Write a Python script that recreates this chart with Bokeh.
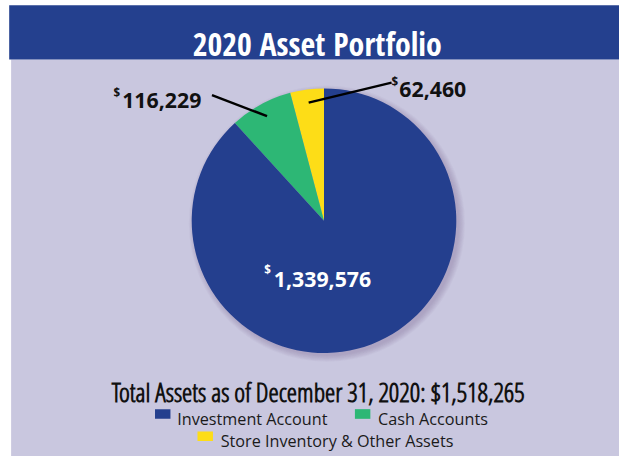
import math
from bokeh.plotting import figure
from bokeh.models import Range1d, ColumnDataSource
from bokeh.core.properties import value
from bokeh.embed import file_html
from bokeh.resources import INLINE

# ---- data ----
categories = ["Store Inventory & Other Assets", "Cash Accounts", "Investment Account"]
amounts = [62460, 116229, 1339576]
colors = ["#fddd17", "#2db775", "#243f8e"]
legend_order = ["Investment Account", "Cash Accounts", "Store Inventory & Other Assets"]
title_text = "2020 Asset Portfolio"
total_text = "Total Assets as of December 31, 2020: $1,518,265"

RW, RH = 641, 472
W, H = 619, 456
S = H / RH

def X(px):
    return px
def Y(py):
    return RH - py
def fs(px):
    return f"{px * S:.1f}px"

p = figure(width=W, height=H, output_backend="svg", toolbar_location=None,
           x_range=Range1d(0, RW), y_range=Range1d(0, RH), min_border=0)
p.axis.visible = False
p.grid.visible = False
p.outline_line_color = None
p.background_fill_color = "white"
p.border_fill_color = "white"

p.quad(left=[X(11)], right=[RW], bottom=[0], top=[Y(61)], fill_color="#c9c7df", line_color=None)
p.quad(left=[X(9)], right=[RW], bottom=[Y(61)], top=[Y(5)], fill_color="#24408e", line_color=None)

COND_BOLD = value("Open Sans Condensed")
COND_REG = value("Open Sans Condensed Light")
p.text(x=[X(328)], y=[Y(45)], text=[title_text], text_font=COND_BOLD,
       text_font_style="bold", text_font_size=fs(33), text_color="white",
       text_align="center", text_baseline="alphabetic")

cx, cy, R = X(335), Y(228), 137
for k in range(8):
    p.circle(x=[cx + 3], y=[cy - 3], radius=R + 6 - k * 0.9, fill_color="#6a6890",
             fill_alpha=0.045, line_color=None)

total = sum(amounts)
starts, ends, mids = [], [], []
a = math.pi / 2
for v in amounts:
    s = a
    e = a + 2 * math.pi * v / total
    starts.append(s); ends.append(e); mids.append((s + e) / 2)
    a = e
src = ColumnDataSource(dict(start=starts, end=ends, color=colors, cat=categories))
p.wedge(x=cx, y=cy, radius=R, start_angle="start", end_angle="end",
        fill_color="color", line_color=None, source=src)

NUM_FONT = value("Open Sans")
def money_label(v, dollar_left, dollar_top, num_left, baseline, color):
    p.text(x=[X(dollar_left)], y=[Y(dollar_top)], text=["$"], text_font=NUM_FONT,
           text_font_style="bold", text_font_size=fs(12), text_color=color,
           text_align="left", text_baseline="top")
    p.text(x=[X(num_left)], y=[Y(baseline)], text=[f"{v:,}"], text_font=NUM_FONT,
           text_font_style="bold", text_font_size=fs(22), text_color=color,
           text_align="left", text_baseline="alphabetic")

lead_ends = {0: (405, 85), 1: (219, 98)}
for i, (ex, ey) in lead_ends.items():
    sx = cx + 0.9 * R * math.cos(mids[i])
    sy = cy + 0.9 * R * math.sin(mids[i])
    p.line(x=[sx, X(ex)], y=[sy, Y(ey)], line_color="black", line_width=2.5)

money_label(amounts[0], 405, 76, 413, 92, "#111111")
money_label(amounts[1], 117, 87, 126, 103, "#111111")
money_label(amounts[2], 273, 271, 283, 289, "white")

p.text(x=[X(329)], y=[Y(405)], text=[total_text], text_font=COND_REG,
       text_font_style="bold", text_font_size=fs(27), text_color="#111111",
       text_align="center", text_baseline="alphabetic")

LEG_FONT = value("Open Sans")
cmap = dict(zip(categories, colors))
leg_pos = [(160, 433, 183), (367, 433, 391), (204, 456, 228)]
for name, (sqx, base, tx) in zip(legend_order, leg_pos):
    p.quad(left=[X(sqx)], right=[X(sqx + 16)], bottom=[Y(base)], top=[Y(base - 10)],
           fill_color=cmap[name], line_color=None)
    p.text(x=[X(tx)], y=[Y(base)], text=[name], text_font=LEG_FONT,
           text_font_size=fs(16.8), text_color="#1a1a1a", text_align="left",
           text_baseline="alphabetic")

open("out.html", "w").write(file_html(p, INLINE))
